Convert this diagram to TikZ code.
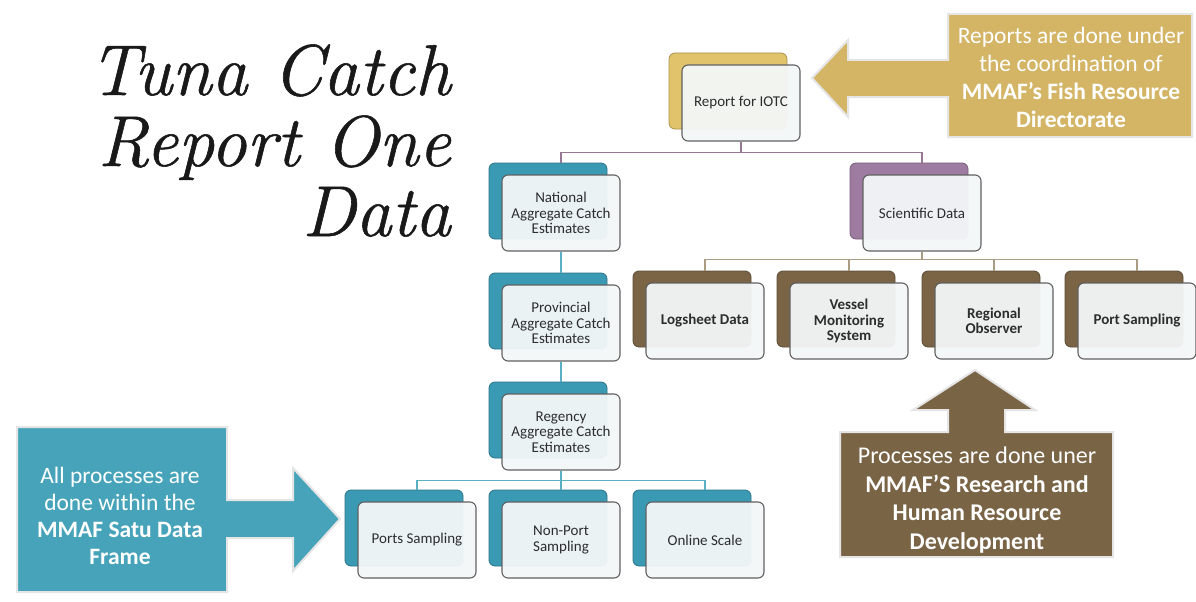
\documentclass[tikz,border=0pt]{standalone}
\usepackage{fontspec}
\newfontfamily\carl{Carlito}
\newfontfamily\titlefont{Latin Modern Roman}[FakeBold=0.8]
\usetikzlibrary{calc}
\definecolor{tealA}{RGB}{70,163,185}
\definecolor{tealB}{RGB}{58,154,180}
\definecolor{goldA}{RGB}{212,181,102}
\definecolor{goldB}{RGB}{224,195,106}
\definecolor{brownA}{RGB}{122,100,70}
\definecolor{brownB}{RGB}{122,100,69}
\definecolor{purpB}{RGB}{158,123,160}
\definecolor{frontfill}{RGB}{244,247,248}
\definecolor{txt}{RGB}{45,45,45}
\definecolor{plinec}{RGB}{150,120,150}
\definecolor{tlinec}{RGB}{90,175,197}
\definecolor{blinec}{RGB}{170,155,130}
\tikzset{
  backbox/.style={draw=#1!75!black, fill=#1, rounded corners=6pt, minimum width=118pt, minimum height=76pt, line width=0.8pt},
  frontbox/.style={draw=gray!75!black, fill=frontfill, fill opacity=0.95, text opacity=1, rounded corners=6pt, minimum width=118pt, minimum height=76pt, line width=1.1pt, align=center, text=txt, font=\carl\fontsize{15}{15.5}\selectfont, inner sep=2pt},
  boldlbl/.style={font=\carl\bfseries\fontsize{15}{15.5}\selectfont},
  conn/.style={line width=1.4pt},
  arrowshape/.style={draw=gray!20, line width=2pt},
  arrowtext/.style={text=white, align=center, font=\carl\fontsize{23.5}{28}\selectfont},
  titletxt/.style={anchor=base east, inner sep=0pt, text=black!90, font=\titlefont\itshape\fontsize{72}{72}\selectfont}
}
\newcommand\dbox[6][]{%
  \node[backbox=#5] (#2b) at (#3-13,#4-12) {};
  \node[frontbox,#1] (#2) at (#3,#4) {#6};}
\begin{document}
\begin{tikzpicture}[x=1pt,y=-1pt]
\useasboundingbox[fill=white] (0,0) rectangle (1196,602);
% title
\node[titletxt] (title1) at (451,95) {Tuna Catch};
\node[titletxt] (title2) at (451,166) {Report One};
\node[titletxt] (title3) at (451,236) {Data};
% boxes
\dbox{iotc}{741}{103}{goldB}{Report for IOTC}
\dbox{nat}{561}{213}{tealB}{National\\Aggregate Catch\\Estimates}
\dbox{prov}{561}{323}{tealB}{Provincial\\Aggregate Catch\\Estimates}
\dbox{reg}{561}{432}{tealB}{Regency\\Aggregate Catch\\Estimates}
\dbox{sci}{922}{213}{purpB}{Scientific Data}
\dbox[boldlbl]{log}{705}{321}{brownB}{Logsheet Data}
\dbox[boldlbl]{ves}{849}{321}{brownB}{Vessel\\Monitoring\\System}
\dbox[boldlbl]{obs}{994}{321}{brownB}{Regional\\Observer}
\dbox[boldlbl]{port}{1137}{321}{brownB}{Port Sampling}
\dbox{ps}{417}{540}{tealB}{Ports Sampling}
\dbox{nps}{561}{540}{tealB}{Non-Port\\Sampling}
\dbox{ol}{705}{540}{tealB}{Online Scale}
% connectors
\draw[conn, plinec] (iotc.south) -- ++(0,11) coordinate (j1) -| (nat.north |- natb.north);
\draw[conn, plinec] (j1) -| (sci.north |- scib.north);
\draw[conn, tlinec] (nat.south) -- (prov.north |- provb.north);
\draw[conn, tlinec] (prov.south) -- (reg.north |- regb.north);
\draw[conn, tlinec] (reg.south) -- ++(0,10) coordinate (j2) -| (ps.north |- psb.north);
\draw[conn, tlinec] (j2) -- (nps.north |- npsb.north);
\draw[conn, tlinec] (j2) -| (ol.north |- olb.north);
\draw[conn, blinec] (sci.south) -- ++(0,8) coordinate (j3) -| (log.north |- logb.north);
\draw[conn, blinec] (j3) -| (ves.north |- vesb.north);
\draw[conn, blinec] (j3) -| (obs.north |- obsb.north);
\draw[conn, blinec] (j3) -| (port.north |- portb.north);
% gold arrow
\draw[arrowshape, fill=goldA] (948,14) -- (1192,14) -- (1192,137) -- (948,137) -- (948,97) -- (848,97) -- (848,117) -- (812,78) -- (848,40) -- (848,60) -- (948,60) -- cycle;
\node[arrowtext] (goldtxt) at (1071,77) {Reports are done under\\the coordination of\\\textbf{MMAF’s Fish Resource}\\\textbf{Directorate}};
% teal arrow
\draw[arrowshape, fill=tealA] (17,427) -- (227,427) -- (227,500) -- (293,500) -- (293,468) -- (340,519) -- (293,571) -- (293,538) -- (227,538) -- (227,592) -- (17,592) -- cycle;
\node[arrowtext, font=\carl\fontsize{23.5}{27}\selectfont] (tealtxt) at (120,516) {All processes are\\done within the\\\textbf{MMAF Satu Data}\\\textbf{Frame}};
% brown arrow
\draw[arrowshape, fill=brownA] (840,432) -- (948,432) -- (948,410) -- (913,410) -- (975,370) -- (1035,410) -- (1005,410) -- (1005,432) -- (1113,432) -- (1113,557) -- (840,557) -- cycle;
\node[arrowtext, font=\carl\fontsize{24}{28.5}\selectfont] (browntxt) at (977,500) {Processes are done uner\\\textbf{MMAF’S Research and}\\\textbf{Human Resource}\\\textbf{Development}};
\end{tikzpicture}
\end{document}
